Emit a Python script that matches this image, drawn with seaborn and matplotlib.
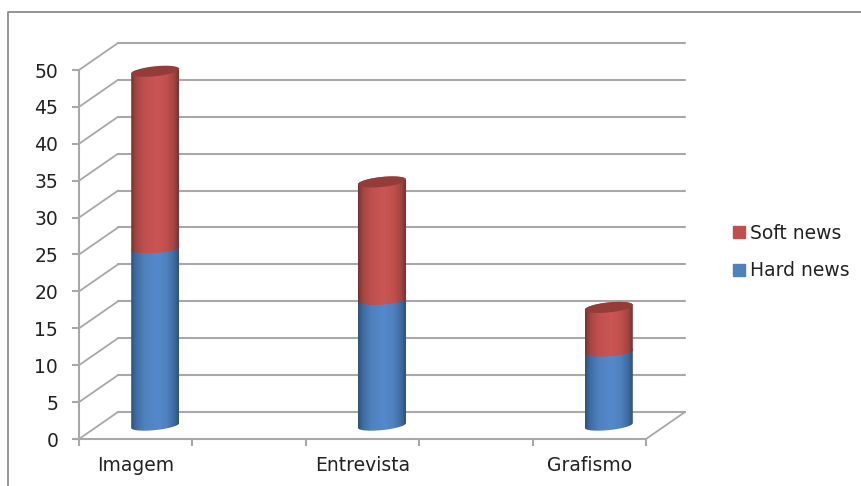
import numpy as np
import pandas as pd
import matplotlib
matplotlib.use("Agg")
import matplotlib.pyplot as plt
import seaborn as sns
from matplotlib.patches import Patch, PathPatch
from matplotlib.path import Path
from matplotlib.transforms import ScaledTranslation
from matplotlib.colors import LinearSegmentedColormap

categories = ["Imagem", "Entrevista", "Grafismo"]
hard_news = [24, 17, 10]
soft_news = [24, 16, 6]
y_ticks = list(range(0, 55, 5))

GRID = "#a8a8a8"
TEXT = "#222222"
W, H, DPI = 862, 486, 100

sns.set_theme(style="white")
plt.rcParams["font.family"] = ["DejaVu Sans"]

fig = plt.figure(figsize=(W / DPI, H / DPI), dpi=DPI)
ax = fig.add_axes([79 / W, 1 - 439 / H, 567 / W, 369 / H])
ax.patch.set_alpha(0)

df = pd.DataFrame({"cat": categories, "hard": hard_news, "soft": soft_news})
bar_w = 0.2116
sns.barplot(data=df, x="cat", y="hard", order=categories, width=bar_w, color="#4f81bd",
            ax=ax, zorder=3, saturation=1)
n_hard = len(ax.patches)
sns.barplot(data=df, x="cat", y="soft", bottom=df["hard"], order=categories, width=bar_w,
            color="#c0504d", ax=ax, zorder=4, saturation=1)

ax.set_xlim(-0.25, 2.25)
ax.set_ylim(0, 50)
ax.set_xlabel("")
ax.set_ylabel("")

# Oblique projection: the back wall sits up and to the right of the front plane
px = 1 / DPI
back = ax.transData + ScaledTranslation(39 * px, 27 * px, fig.dpi_scale_trans)
mid = ax.transData + ScaledTranslation(19.5 * px, 13.5 * px, fig.dpi_scale_trans)
xpx = 567 / 2.5
ypx = 369 / 50

# Walls and floor
for v in y_ticks:
    ax.plot([-0.25, 2.25], [v, v], color=GRID, lw=1.5, transform=back, clip_on=False, zorder=1)
    ax.plot([-0.25, -0.25 + 39 / xpx], [v, v + 27 / ypx], color=GRID, lw=1.3, clip_on=False, zorder=1)
ax.plot([2.25, 2.25 + 39 / xpx], [0, 27 / ypx], color=GRID, lw=1.3, clip_on=False, zorder=1)

# Cylindrical shading for each stacked segment
def arc(x0, width, y, start, stop, b_px, tilt_px, steps=50):
    xc = x0 + width / 2
    t = np.linspace(start, stop, steps)
    return np.c_[xc + width / 2 * np.cos(t),
                 y + (b_px * np.sin(t) + tilt_px * np.cos(t)) / ypx]

def cylinder_path(x0, width, y0, y1, tilt_low):
    low = arc(x0, width, y0, np.pi, 2 * np.pi, 4.6, tilt_low)
    up = arc(x0, width, y1, 0, np.pi, 5.0, 2.4)
    return Path(np.vstack([low, up, low[:1]]))

def band(edge, shade, body, peak):
    return LinearSegmentedColormap.from_list(
        "band", [(0, edge), (0.1, shade), (0.28, body), (0.55, peak),
                 (0.75, body), (0.9, shade), (1, edge)])

blue_map = band("#2f5178", "#3f6ba3", "#4f81bd", "#5589cd")
red_map = band("#763231", "#a44543", "#c0504d", "#cb5654")
grad = np.linspace(0, 1, 128)[None, :]

for i, rect in enumerate(ax.patches):
    is_hard = i < n_hard
    x0, width = rect.get_x(), rect.get_width()
    y0, y1 = rect.get_y(), rect.get_y() + rect.get_height()
    # the rim of the base is more tilted than the seam between the segments
    shape = cylinder_path(x0, width, y0, y1, 2.4 if is_hard else 1.5)
    rect.set_visible(False)
    z = 3 if is_hard else 4
    im = ax.imshow(grad, cmap=blue_map if is_hard else red_map, aspect="auto",
                   extent=(x0, x0 + width, y0 - 1.5, y1 + 1.5), zorder=z, interpolation="bilinear")
    im.set_transform(mid)
    im.set_clip_path(shape, mid)
    if not is_hard:
        ax.add_patch(PathPatch(Path(arc(x0, width, y1, 0, 2 * np.pi, 5.0, 2.4, 100)), transform=mid,
                               facecolor="#943c3a", edgecolor="none", zorder=5, clip_on=False))

ax.set_xlim(-0.25, 2.25)
ax.set_ylim(0, 50)

# Front axes
sns.despine(ax=ax, top=True, right=True)
for side in ("left", "bottom"):
    ax.spines[side].set_color(GRID)
    ax.spines[side].set_linewidth(1.5)
    ax.spines[side].set_zorder(2)
ax.set_yticks(y_ticks)
ax.set_xticks(np.arange(-0.25, 2.3, 0.5))
ax.set_xticklabels([])
ax.set_xticks(range(len(categories)), minor=True)
ax.set_xticklabels(categories, minor=True)
ax.tick_params(axis="x", which="major", length=5, width=1.5, color=GRID, bottom=True)
ax.tick_params(axis="x", which="minor", length=0, pad=12, labelsize=13.5, labelcolor=TEXT)
ax.tick_params(axis="y", length=5, width=1.5, color=GRID, left=True, pad=10, labelsize=13.5, labelcolor=TEXT)

handles = [Patch(color="#c0504d", label="Soft news"), Patch(color="#4f81bd", label="Hard news")]
fig.legend(handles=handles, loc="center left", bbox_to_anchor=(733 / W, 1 - 252 / H), frameon=False,
           fontsize=13.5, labelcolor=TEXT, handlelength=0.65, handleheight=0.65, handletextpad=0.28,
           labelspacing=1.0, borderpad=0, borderaxespad=0)

# Chart-area border, open on the right and at the bottom
fig.add_artist(plt.Line2D([8 / W, 8 / W, 1], [0, 1 - 12 / H, 1 - 12 / H], color="#8c8c8c", lw=1.3,
                          transform=fig.transFigure))

fig.savefig("out.png", dpi=DPI, facecolor="white")
